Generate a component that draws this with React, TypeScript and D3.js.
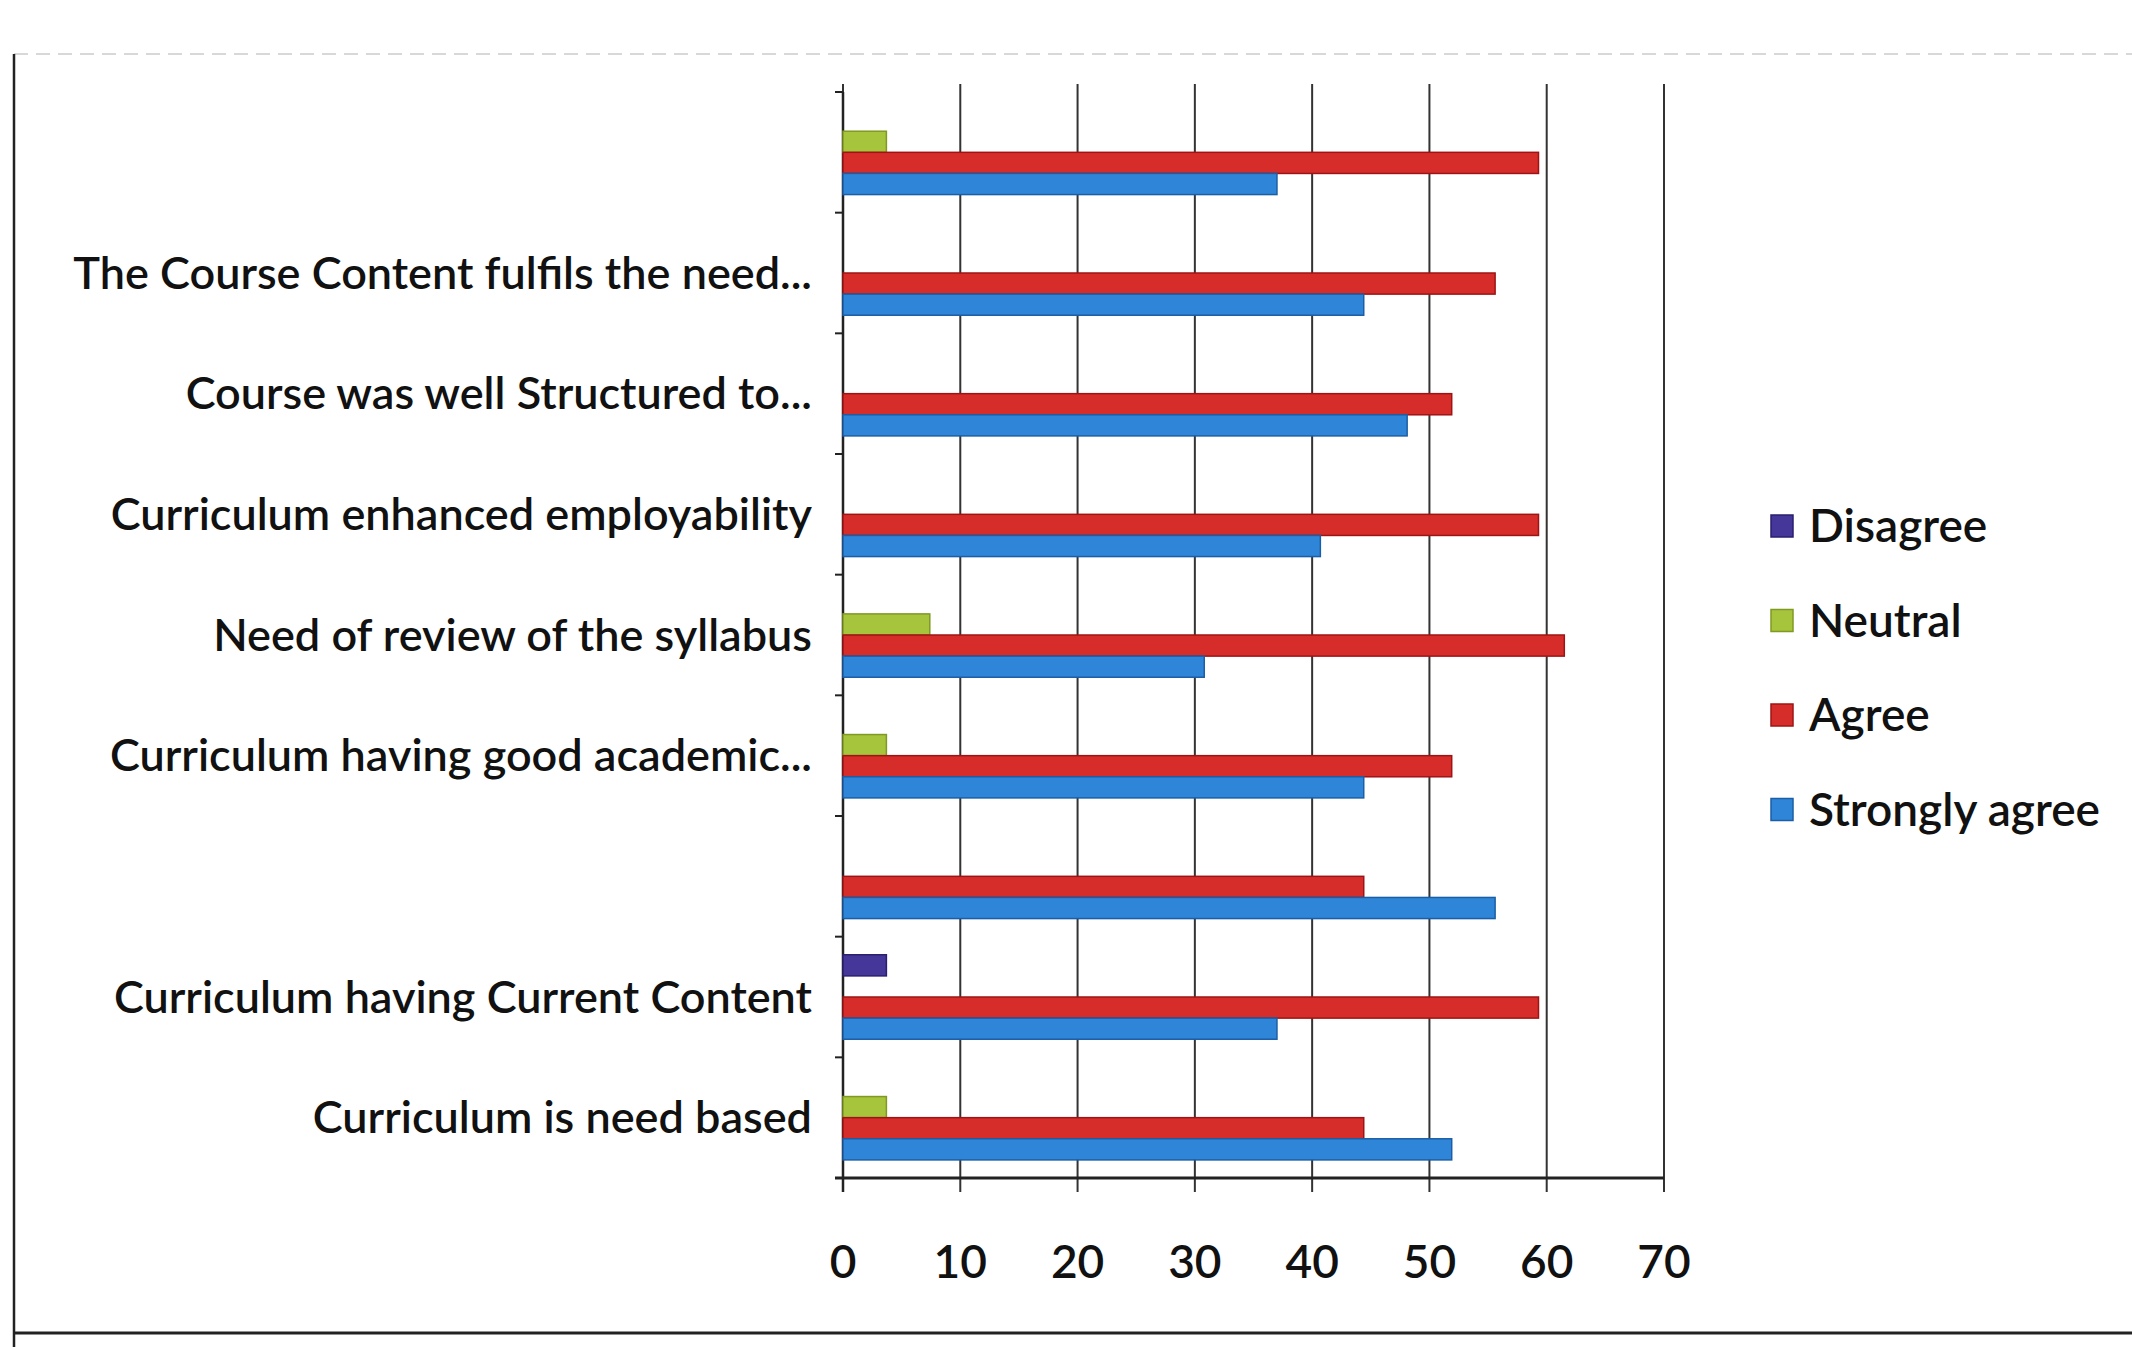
import React from "react";
import * as d3 from "d3";

const categories = [
  "",
  "The Course Content fulfils the need...",
  "Course was well Structured to...",
  "Curriculum enhanced employability",
  "Need of review of the syllabus",
  "Curriculum having good academic...",
  "",
  "Curriculum having Current Content",
  "Curriculum is need based",
];

const seriesNames = ["Disagree", "Neutral", "Agree", "Strongly agree"];

const disagree = [0, 0, 0, 0, 0, 0, 0, 3.7, 0];
const neutral = [3.7, 0, 0, 0, 7.4, 3.7, 0, 0, 3.7];
const agree = [59.3, 55.6, 51.9, 59.3, 61.5, 51.9, 44.4, 59.3, 44.4];
const stronglyAgree = [37, 44.4, 48.1, 40.7, 30.8, 44.4, 55.6, 37, 51.9];

const xTicks = [0, 10, 20, 30, 40, 50, 60, 70];

const seriesColors = ["#45369a", "#a6c43c", "#d62d2b", "#2f86d8"];
const seriesStroke = ["#2a1f6e", "#7f9a22", "#9e1414", "#1b5ea6"];

export default function App() {
  const W = 2132;
  const H = 1347;
  const plotLeft = 843;
  const plotRight = 1664;
  const plotTop = 92;
  const plotBottom = 1178;

  const x = d3.scaleLinear().domain([0, 70]).range([plotLeft, plotRight]);
  const y = d3
    .scaleBand<number>()
    .domain(d3.range(categories.length))
    .range([plotTop, plotBottom])
    .paddingInner(0.3)
    .paddingOuter(0.15);
  const ys = d3
    .scaleBand<number>()
    .domain(d3.range(seriesNames.length))
    .range([0, y.bandwidth()])
    .padding(0);

  const seriesData = [disagree, neutral, agree, stronglyAgree];
  const step = (plotBottom - plotTop) / categories.length;
  const boundaries = d3.range(categories.length + 1).map((i) => plotTop + i * step);

  const font = "Lato, 'Open Sans', sans-serif";

  return (
    <svg
      width={W}
      height={H}
      style={{ position: "absolute", left: 0, top: 0, background: "#fff" }}
    >
      <rect x={0} y={0} width={W} height={H} fill="#fff" />
      {/* outer frame */}
      <line x1={14} x2={W} y1={54} y2={54} stroke="#d8d8d8" strokeWidth={2} strokeDasharray="14 8" />
      <line x1={14} x2={14} y1={54} y2={H} stroke="#222" strokeWidth={2.5} />
      <line x1={14} x2={W} y1={1333} y2={1333} stroke="#222" strokeWidth={3} />

      {/* gridlines */}
      {xTicks.map((t) => (
        <line
          key={"g" + t}
          x1={x(t)}
          x2={x(t)}
          y1={plotTop - 8}
          y2={plotBottom + 14}
          stroke="#333"
          strokeWidth={2}
        />
      ))}

      {/* category axis */}
      <line x1={plotLeft} x2={plotLeft} y1={plotTop} y2={plotBottom + 14} stroke="#222" strokeWidth={2.5} />
      {boundaries.map((b, i) => (
        <line key={"t" + i} x1={plotLeft - 8} x2={plotLeft} y1={b} y2={b} stroke="#222" strokeWidth={2} />
      ))}
      <line x1={plotLeft - 8} x2={plotRight} y1={plotBottom} y2={plotBottom} stroke="#222" strokeWidth={3} />

      {/* bars */}
      {categories.map((c, i) =>
        seriesData.map((s, k) =>
          s[i] > 0 ? (
            <rect
              key={"b" + i + "-" + k}
              x={x(0)}
              y={(y(i) as number) + (ys(k) as number)}
              width={x(s[i]) - x(0)}
              height={ys.bandwidth()}
              fill={seriesColors[k]}
              stroke={seriesStroke[k]}
              strokeWidth={1.5}
            />
          ) : null
        )
      )}

      {/* category labels */}
      {categories.map((c, i) => (
        <text
          key={"l" + i}
          x={812}
          y={(y(i) as number) + y.bandwidth() / 2}
          dy="0.35em"
          textAnchor="end"
          fontFamily={font}
          fontWeight={600}
          fontSize={45}
          fill="#111"
        >
          {c}
        </text>
      ))}

      {/* x tick labels */}
      {xTicks.map((t) => (
        <text
          key={"x" + t}
          x={x(t)}
          y={1262}
          dy="0.35em"
          textAnchor="middle"
          fontFamily={font}
          fontWeight={600}
          fontSize={46}
          fill="#111"
        >
          {t}
        </text>
      ))}

      {/* legend */}
      {seriesNames.map((n, k) => (
        <g key={"lg" + k} transform={`translate(1771, ${526 + k * 94.5})`}>
          <rect x={0} y={-11} width={22} height={22} fill={seriesColors[k]} stroke={seriesStroke[k]} strokeWidth={1.5} />
          <text x={38} y={0} dy="0.35em" fontFamily={font} fontWeight={600} fontSize={46} fill="#111">
            {n}
          </text>
        </g>
      ))}
    </svg>
  );
}
